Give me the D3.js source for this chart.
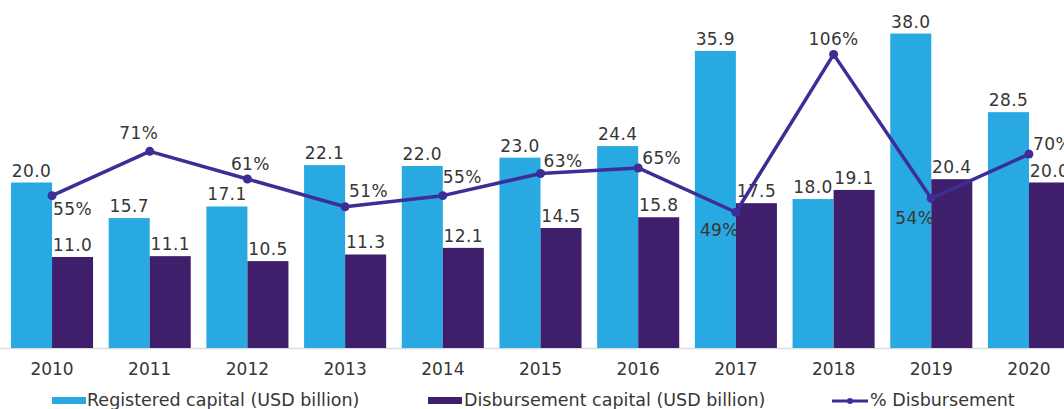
<!DOCTYPE html>
<meta charset="utf-8">
<style>
  body { margin: 0; background: #fff; }
  svg text { font-family: 'DejaVu Sans', sans-serif; fill: #363636; }
  .val { font-size: 17px; letter-spacing: 0.4px; }
  .axis text { font-size: 17px; }
  .legend text { font-size: 17.5px; }
</style>
<body>
<script src="https://d3js.org/d3.v7.min.js"></script>
<script>
// data
var years = ["2010", "2011", "2012", "2013", "2014", "2015", "2016", "2017", "2018", "2019", "2020"];
var registered = [20.0, 15.7, 17.1, 22.1, 22.0, 23.0, 24.4, 35.9, 18.0, 38.0, 28.5];
var disbursed = [11.0, 11.1, 10.5, 11.3, 12.1, 14.5, 15.8, 17.5, 19.1, 20.4, 20.0];
var pctDisbursed = [55, 71, 61, 51, 55, 63, 65, 49, 106, 54, 70];
var seriesNames = ["Registered capital (USD billion)", "Disbursement capital (USD billion)", "% Disbursement"];

var width = 1064, height = 409;
var base = 348;
var colReg = "#29a9e1", colDis = "#3f1f6c", colLine = "#3c2e96";

var svg = d3.select("body").append("svg")
  .attr("width", width)
  .attr("height", height);

// scales
var x0 = d3.scaleBand().domain(years).range([11, 1070]).paddingInner(0.16).paddingOuter(0);
var x1 = d3.scaleBand().domain(["reg", "dis"]).range([0, x0.bandwidth()]);
var y = d3.scaleLinear().domain([0, 40]).range([base, base - 331]);
var y2 = d3.scaleLinear().domain([0, 100]).range([base, base - 277]);

var rows = years.map(function (yr, i) {
  return { year: yr, reg: registered[i], dis: disbursed[i], pct: pctDisbursed[i] };
});

// x axis
var xAxis = svg.append("g")
  .attr("class", "axis")
  .attr("transform", "translate(0," + base + ")")
  .call(d3.axisBottom(x0).tickSize(0).tickSizeOuter(0));
xAxis.select(".domain").attr("stroke", "#dcdcdc").attr("stroke-width", 1.5)
  .attr("d", "M0,0.5H" + width);
xAxis.selectAll("text").attr("y", 27).attr("dy", 0).attr("fill", "#363636");

// bars
var groups = svg.selectAll(".grp")
  .data(rows)
  .join("g")
  .attr("class", "grp")
  .attr("transform", function (d) { return "translate(" + x0(d.year) + ",0)"; });

groups.append("rect")
  .attr("x", x1("reg"))
  .attr("width", x1.bandwidth())
  .attr("y", function (d) { return y(d.reg); })
  .attr("height", function (d) { return base - y(d.reg); })
  .attr("fill", colReg);

groups.append("rect")
  .attr("x", x1("dis"))
  .attr("width", x1.bandwidth())
  .attr("y", function (d) { return y(d.dis); })
  .attr("height", function (d) { return base - y(d.dis); })
  .attr("fill", colDis);

groups.append("text")
  .attr("class", "val")
  .attr("text-anchor", "middle")
  .attr("x", x1("reg") + x1.bandwidth() / 2)
  .attr("y", function (d) { return y(d.reg) - 6; })
  .text(function (d) { return d.reg.toFixed(1); });

groups.append("text")
  .attr("class", "val")
  .attr("text-anchor", "middle")
  .attr("x", x1("dis") + x1.bandwidth() / 2)
  .attr("y", function (d) { return y(d.dis) - 6; })
  .text(function (d) { return d.dis.toFixed(1); });

// % line
var cx = function (d) { return x0(d.year) + x0.bandwidth() / 2; };
var line = d3.line().x(cx).y(function (d) { return y2(d.pct); });

svg.append("path")
  .datum(rows)
  .attr("fill", "none")
  .attr("stroke", colLine)
  .attr("stroke-width", 3.5)
  .attr("stroke-linejoin", "round")
  .attr("d", line);

svg.selectAll(".dot")
  .data(rows)
  .join("circle")
  .attr("class", "dot")
  .attr("cx", cx)
  .attr("cy", function (d) { return y2(d.pct); })
  .attr("r", 4.5)
  .attr("fill", colLine);

// where each % label sits relative to its point
var pctPlace = [
  ["start", 1, 19], ["middle", -11, -12], ["middle", 3, -9], ["start", 4, -10],
  ["start", 0, -13], ["start", 3, -6], ["start", 4, -4], ["end", 3, 24],
  ["middle", 0, -9], ["end", 3, 26], ["start", 4, -4]
];

svg.selectAll(".pct")
  .data(rows)
  .join("text")
  .attr("class", "val pct")
  .attr("text-anchor", function (d, i) { return pctPlace[i][0]; })
  .attr("x", function (d, i) { return cx(d) + pctPlace[i][1]; })
  .attr("y", function (d, i) { return y2(d.pct) + pctPlace[i][2]; })
  .text(function (d) { return d.pct + "%"; });

// legend
var legend = svg.append("g").attr("class", "legend");
var lg1 = legend.append("g").attr("transform", "translate(52,397)");
lg1.append("rect").attr("width", 34).attr("height", 7).attr("fill", colReg);
lg1.append("text").attr("x", 35).attr("y", 9).text(seriesNames[0]);

var lg2 = legend.append("g").attr("transform", "translate(428,397)");
lg2.append("rect").attr("width", 34).attr("height", 7).attr("fill", colDis);
lg2.append("text").attr("x", 36).attr("y", 9).text(seriesNames[1]);

var lg3 = legend.append("g").attr("transform", "translate(832,401)");
lg3.append("line").attr("x1", 0).attr("x2", 36).attr("stroke", colLine).attr("stroke-width", 3);
lg3.append("circle").attr("cx", 18).attr("r", 3).attr("fill", colLine);
lg3.append("text").attr("x", 38).attr("y", 5).text(seriesNames[2]);
</script>
</body>
